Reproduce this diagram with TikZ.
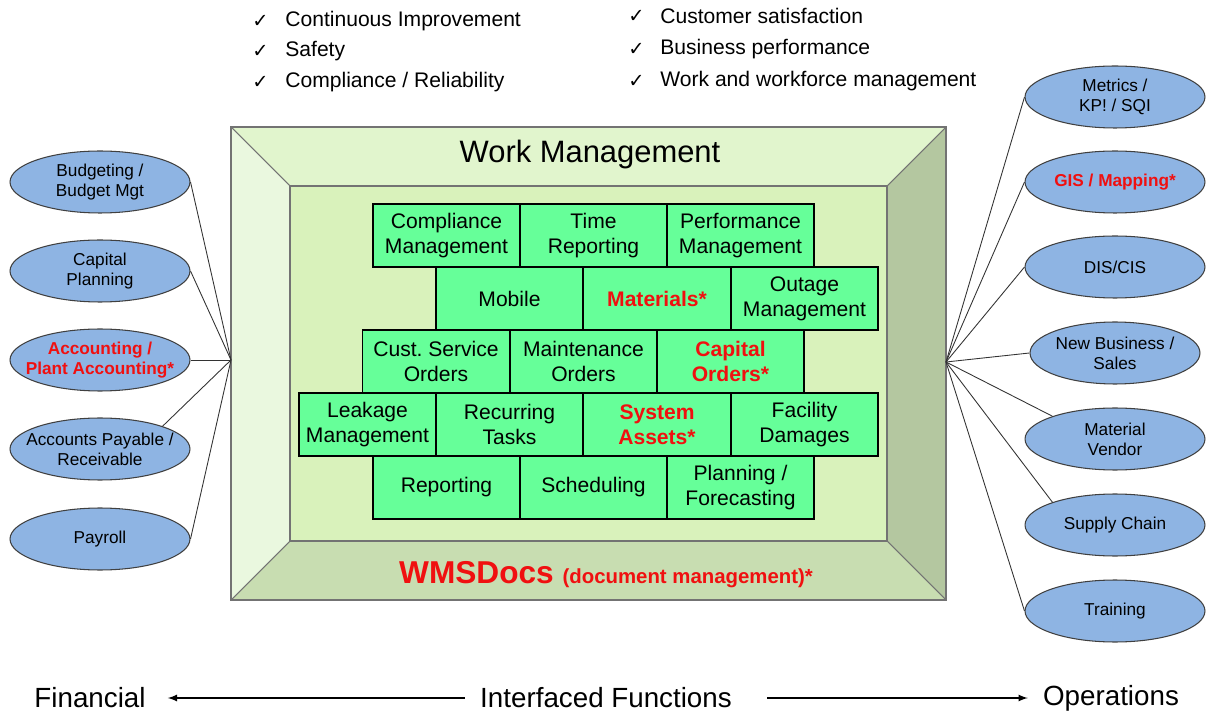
\documentclass[tikz,border=0pt]{standalone}
\usepackage{fontspec}
\setmainfont{Liberation Sans}
\newfontfamily\symb{DejaVu Sans}
\usetikzlibrary{shapes.geometric}

\definecolor{cellgreen}{HTML}{66FF99}
\definecolor{topface}{HTML}{E1F5CD}
\definecolor{leftface}{HTML}{EAF8DF}
\definecolor{rightface}{HTML}{B4C7A0}
\definecolor{bottomface}{HTML}{C8DDB1}
\definecolor{innerface}{HTML}{D9F2BB}
\definecolor{bubblue}{HTML}{8EB4E3}
\definecolor{wmsred}{HTML}{F01010}

\begin{document}
\begin{tikzpicture}[x=0.02cm,y=-0.02cm,
    cell/.style={draw=black, line width=1.1pt, fill=cellgreen, minimum width=2.94cm, minimum height=1.26cm, inner sep=0pt, align=center, font=\fontsize{12}{14.2}\selectfont},
    hot/.style={text=wmsred, font=\fontsize{12}{14.2}\selectfont\bfseries},
    bubble/.style={ellipse, draw=black!75, line width=0.6pt, fill=bubblue, minimum width=3.6cm, minimum height=1.24cm, inner xsep=-9pt, inner ysep=0pt, align=center, font=\fontsize{9.8}{11.4}\selectfont},
    link/.style={draw=black!80, line width=0.5pt},
    item/.style={anchor=west, inner sep=0pt, font=\fontsize{12}{14}\selectfont},
    tick/.style={anchor=west, inner sep=0pt, font=\symb\fontsize{11}{12}\selectfont},
    face/.style={draw=black!55, line width=0.6pt}]
    \useasboundingbox (0,0) rectangle (1213,712);

    % goals
    \node[tick] (t1) at (252,21) {✓};
    \node[item] (g1) at (285,21) {Continuous Improvement};
    \node[tick] (t2) at (252,51) {✓};
    \node[item] (g2) at (285,51) {Safety};
    \node[tick] (t3) at (252,82) {✓};
    \node[item] (g3) at (285,82) {Compliance / Reliability};
    \node[tick] (t4) at (628,16) {✓};
    \node[item] (g4) at (660,16) {Customer satisfaction};
    \node[tick] (t5) at (628,49) {✓};
    \node[item] (g5) at (660,49) {Business performance};
    \node[tick] (t6) at (628,81) {✓};
    \node[item] (g6) at (660,81) {Work and workforce management};

    % frame
    \coordinate (A) at (231,127);
    \coordinate (B) at (946,127);
    \coordinate (C) at (946,600);
    \coordinate (D) at (231,600);
    \coordinate (a) at (290,186);
    \coordinate (b) at (887,186);
    \coordinate (c) at (887,541);
    \coordinate (d) at (290,541);
    \fill[topface] (A) -- (B) -- (b) -- (a) -- cycle;
    \fill[leftface] (A) -- (a) -- (d) -- (D) -- cycle;
    \fill[rightface] (B) -- (C) -- (c) -- (b) -- cycle;
    \fill[bottomface] (D) -- (d) -- (c) -- (C) -- cycle;
    \fill[innerface] (a) rectangle (c);
    \draw[face] (A) rectangle (C);
    \draw[face] (a) rectangle (c);
    \draw[face] (A) -- (a) (B) -- (b) (C) -- (c) (D) -- (d);

    \node (wm) at (590,155) {\fontsize{17.6}{20}\selectfont Work Management};
    \node[text=wmsred, font=\bfseries] (docs) at (606,575)
        {\fontsize{18}{20}\selectfont WMSDocs \fontsize{11.6}{14}\selectfont(document management)*};

    % modules
    \node[cell] (c11) at (446.5,235.5) {Compliance\\Management};
    \node[cell] (c12) at (593.5,235.5) {Time\\Reporting};
    \node[cell] (c13) at (740.5,235.5) {Performance\\Management};
    \node[cell] (c21) at (509.5,298.5) {Mobile};
    \node[cell,hot] (c22) at (657,298.5) {Materials*};
    \node[cell] (c23) at (804.5,298.5) {Outage\\Management};
    \node[cell] (c31) at (436,361.5) {Cust.\ Service\\Orders};
    \node[cell] (c32) at (583.5,361.5) {Maintenance\\Orders};
    \node[cell,hot] (c33) at (730.5,361.5) {Capital\\Orders*};
    \node[cell,minimum width=2.74cm] (c41) at (367.5,424.5) {Leakage\\Management};
    \node[cell] (c42) at (509.5,424.5) {Recurring\\Tasks};
    \node[cell,hot] (c43) at (657,424.5) {System\\Assets*};
    \node[cell] (c44) at (804.5,424.5) {Facility\\Damages};
    \node[cell] (c51) at (446.5,487.5) {Reporting};
    \node[cell] (c52) at (593.5,487.5) {Scheduling};
    \node[cell] (c53) at (740.5,487.5) {Planning /\\Forecasting};

    % financial side
    \coordinate (finl) at (231,360);
    \node[bubble] (budget) at (100,182) {Budgeting /\\Budget Mgt};
    \node[bubble] (capplan) at (100,271) {Capital\\Planning};
    \node[bubble, text=wmsred, font=\fontsize{9.8}{11.4}\selectfont\bfseries] (acct) at (100,360) {Accounting /\\Plant Accounting*};
    \node[bubble] (payable) at (100,449) {Accounts Payable /\\Receivable};
    \node[bubble] (payroll) at (100,539) {Payroll};
    \draw[link] (budget.east) -- (finl);
    \draw[link] (capplan.east) -- (finl);
    \draw[link] (acct.east) -- (finl);
    \draw[link] (payable.20) -- (finl);
    \draw[link] (payroll.east) -- (finl);

    % operations side
    \coordinate (opsr) at (946,362);
    \node[bubble] (kpi) at (1115,97) {Metrics /\\KP! / SQI};
    \node[bubble, text=wmsred, font=\fontsize{9.8}{11.4}\selectfont\bfseries] (gis) at (1115,182) {GIS / Mapping*};
    \node[bubble] (dis) at (1115,267) {DIS/CIS};
    \node[bubble, minimum width=3.4cm] (newbiz) at (1115,353) {New Business /\\Sales};
    \node[bubble] (vendor) at (1115,439) {Material\\Vendor};
    \node[bubble] (supply) at (1115,525) {Supply Chain};
    \node[bubble] (train) at (1115,611) {Training};
    \draw[link] (kpi.west) -- (opsr);
    \draw[link] (gis.west) -- (opsr);
    \draw[link] (dis.west) -- (opsr);
    \draw[link] (newbiz.west) -- (opsr);
    \draw[link] (vendor.160) -- (opsr);
    \draw[link] (supply.160) -- (opsr);
    \draw[link] (train.west) -- (opsr);

    % bottom legend
    \node[inner sep=0pt, font=\fontsize{15.8}{18}\selectfont] (fin) at (90,698) {Financial};
    \node[inner sep=0pt, font=\fontsize{15.8}{18}\selectfont] (intf) at (606,698) {Interfaced Functions};
    \node[inner sep=0pt, font=\fontsize{15.8}{18}\selectfont] (ops) at (1111,698) {Operations};
    \draw[-latex, line width=0.8pt, shorten <=0.3cm, shorten >=0.44cm] (intf) -- (fin);
    \draw[-latex, line width=0.8pt, shorten <=0.7cm, shorten >=0.3cm] (intf) -- (ops);
\end{tikzpicture}
\end{document}
